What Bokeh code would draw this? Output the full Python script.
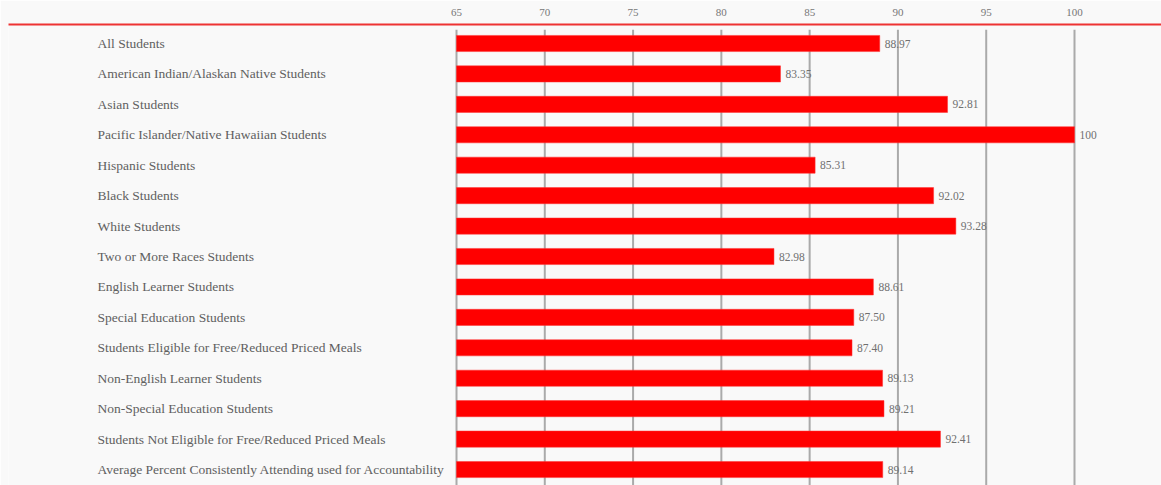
from bokeh.plotting import figure
from bokeh.models import Range1d, FixedTicker, ColumnDataSource
from bokeh.core.properties import value
from bokeh.embed import file_html
from bokeh.resources import INLINE

categories = [
    "All Students",
    "American Indian/Alaskan Native Students",
    "Asian Students",
    "Pacific Islander/Native Hawaiian Students",
    "Hispanic Students",
    "Black Students",
    "White Students",
    "Two or More Races Students",
    "English Learner Students",
    "Special Education Students",
    "Students Eligible for Free/Reduced Priced Meals",
    "Non-English Learner Students",
    "Non-Special Education Students",
    "Students Not Eligible for Free/Reduced Priced Meals",
    "Average Percent Consistently Attending used for Accountability",
]
values = [88.97, 83.35, 92.81, 100, 85.31, 92.02, 93.28, 82.98, 88.61, 87.50, 87.40, 89.13, 89.21, 92.41, 89.14]
value_labels = ["88.97", "83.35", "92.81", "100", "85.31", "92.02", "93.28", "82.98", "88.61", "87.50", "87.40", "89.13", "89.21", "92.41", "89.14"]
ticks = [65, 70, 75, 80, 85, 90, 95, 100]
baseline = 65

W, H = 1161, 485
left_border = 8
top_border = 24
# pixel layout of the x scale
px65, px100 = 456, 1074
scale = (px100 - px65) / (100 - 65)
x_start = 65 - (px65 - left_border) / scale
x_end = 65 + (W - px65) / scale
# y layout: first row center 43px, row spacing
row0, row_step = 43, 30.43
y_top = (top_border - row0) / row_step
y_bot = (H - row0) / row_step

ypos = list(range(len(categories)))
src = ColumnDataSource(dict(y=ypos, cat=categories, v=values, vl=value_labels,
                            base=[baseline] * len(values)))

p = figure(width=W, height=H, output_backend="svg", toolbar_location=None,
           x_range=Range1d(x_start, x_end), y_range=Range1d(y_bot, y_top),
           x_axis_location="above", min_border_left=left_border, min_border_right=0,
           min_border_top=top_border, min_border_bottom=0)
p.background_fill_color = "#f9f9f9"
p.border_fill_color = "#f9f9f9"
p.outline_line_color = None
p.yaxis.visible = False
p.grid.visible = False

ax = p.xaxis[0]
ax.ticker = FixedTicker(ticks=ticks)
ax.axis_line_color = "#ee3333"
ax.axis_line_width = 2
ax.major_tick_line_color = None
ax.minor_tick_line_color = None
ax.major_label_text_font = "Liberation Serif"
ax.major_label_text_font_size = "11px"
ax.major_label_text_color = "#777777"
ax.major_label_standoff = 3

# vertical grid lines
p.segment(x0=ticks, x1=ticks, y0=[-0.45] * len(ticks), y1=[y_bot] * len(ticks),
          line_color="#aaaaaa", line_width=2)

p.hbar(y="y", left="base", right="v", height=0.53, source=src,
       fill_color="#ff0000", line_color="#ff3030", line_width=0.5)

p.text(x="v", y="y", text="vl", source=src, x_offset=5,
       text_font=value("Liberation Serif"), text_font_size="11.5px",
       text_color="#707070", text_baseline="middle", text_align="left")

p.text(x=x_start, y="y", text="cat", source=src, x_offset=97 - left_border,
       text_font=value("Liberation Serif"), text_font_size="13.5px",
       text_color="#606060", text_baseline="middle", text_align="left")

open("out.html", "w").write(file_html(p, INLINE))
